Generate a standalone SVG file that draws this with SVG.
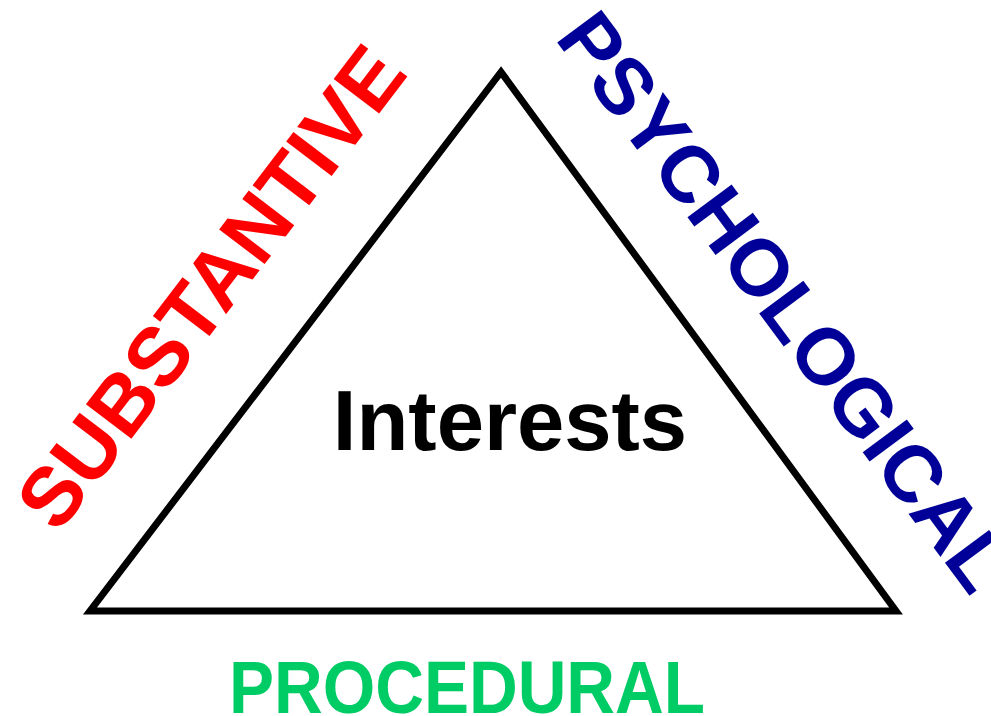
<svg xmlns="http://www.w3.org/2000/svg" width="991" height="716" viewBox="0 0 991 716">
<style>
.t{font-family:"Liberation Sans",Arial,Helvetica,sans-serif;font-weight:bold;}
</style>
<rect width="991" height="716" fill="#ffffff"/>
<g id="triangle">
<polygon points="501,72 90,611 896,611" fill="none" stroke="#000000" stroke-width="7" stroke-linejoin="miter" stroke-miterlimit="10"/>
</g>
<g id="interests">
<text class="t" x="510" y="450" font-size="85" text-anchor="middle" fill="#000000">Interests</text>
</g>
<g id="substantive">
<text class="t" x="0" y="0" font-size="83" text-anchor="middle" fill="#FF0000" transform="translate(233.7,304.5) rotate(-52.7)">SUBSTANTIVE</text>
</g>
<g id="psychological">
<text class="t" x="0" y="0" font-size="80" text-anchor="middle" fill="#000099" transform="translate(762.5,318) rotate(53.3)">PSYCHOLOGICAL</text>
</g>
<g id="procedural">
<text class="t" x="0" y="0" font-size="75" text-anchor="middle" fill="#00CC66" transform="translate(467,713) scale(0.9,1)">PROCEDURAL</text>
</g>
</svg>
